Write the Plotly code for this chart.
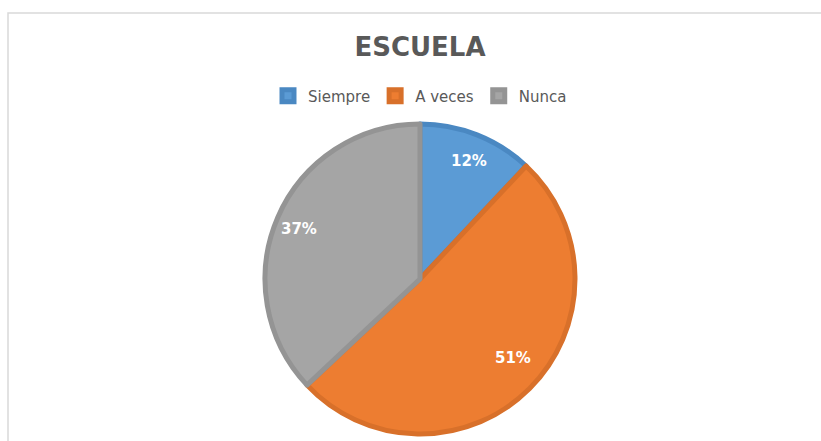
import math
import plotly.graph_objects as go

# ESCUELA - pie of answers
labels = ["Siempre", "A veces", "Nunca"]
values = [12, 51, 37]
colors = ["#5B9BD5", "#ED7D31", "#A5A5A5"]
edge_colors = ["#4A88C2", "#D8702A", "#949494"]

W, H = 821, 441
cx, cy, r = 420, 279, 155

fig = go.Figure()
fig.add_trace(go.Pie(
    labels=labels, values=values,
    sort=False, direction="clockwise", rotation=0,
    marker=dict(colors=colors, line=dict(color=edge_colors, width=5)),
    textinfo="none", hoverinfo="skip",
    domain=dict(x=[(cx - r) / W, (cx + r) / W],
                y=[(H - cy - r) / H, (H - cy + r) / H]),
))

# percent labels placed toward the rim, like Excel's best fit
total = sum(values)
annotations = []
start = 0
for v in values:
    mid = (start + v / 2) / total * 2 * math.pi
    start += v
    px_ = cx + 0.85 * r * math.sin(mid)
    py_ = cy - 0.82 * r * math.cos(mid)
    annotations.append(dict(
        x=px_ / W, y=1 - py_ / H, xref="paper", yref="paper",
        text=f"<b>{round(v / total * 100)}%</b>", showarrow=False,
        font=dict(color="white", size=15, family="DejaVu Sans"),
    ))

fig.update_layout(
    width=W, height=H,
    margin=dict(l=0, r=0, t=0, b=0),
    paper_bgcolor="white", plot_bgcolor="white",
    font=dict(family="DejaVu Sans", color="#595959"),
    title=dict(text="<b>ESCUELA</b>", x=cx / W, xanchor="center",
               y=1 - 47 / H, yanchor="middle",
               font=dict(size=26, color="#595959", family="DejaVu Sans")),
    legend=dict(orientation="h", x=cx / W, xanchor="center",
                y=1 - 96 / H, yanchor="middle",
                font=dict(size=15, color="#595959"),
                itemwidth=30, traceorder="normal"),
    annotations=annotations,
    shapes=[dict(type="rect", xref="paper", yref="paper",
                 x0=8 / W, x1=1.2, y0=-0.2, y1=1 - 13 / H,
                 line=dict(color="#D9D9D9", width=1.5))],
)

fig.write_html("out.html", config={"displayModeBar": False},
               post_script="document.body.style.margin='0';")
